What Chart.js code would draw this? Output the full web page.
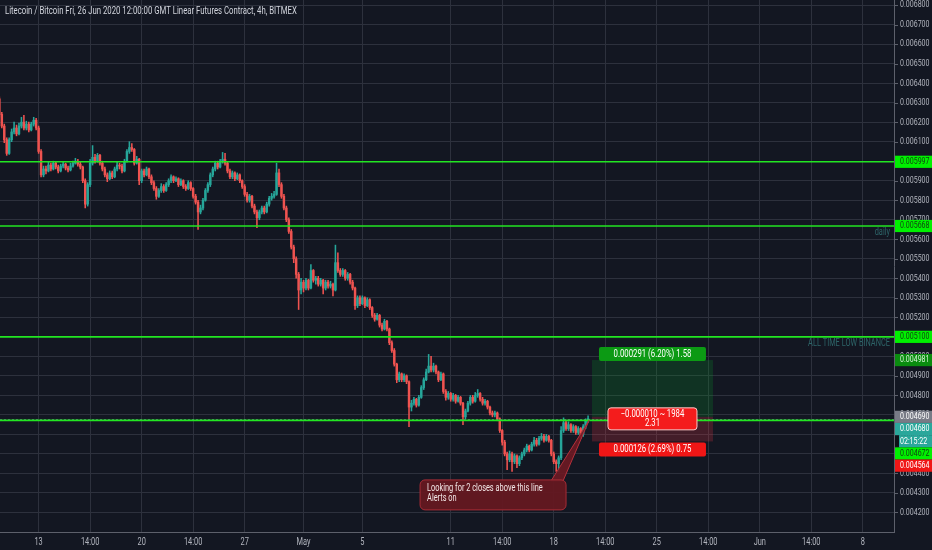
<!DOCTYPE html>
<html>
<head>
<meta charset="utf-8">
<script src="https://cdn.jsdelivr.net/npm/chart.js@4.4.0/dist/chart.umd.min.js"></script>
<style>
  html, body { margin: 0; padding: 0; background: #131722; }
  #wrap { width: 932px; height: 550px; position: relative; }
</style>
</head>
<body>
<div id="wrap"><canvas id="chart"></canvas></div>
<script>
// LTC/BTC 4h candles, prices in millionths of BTC (6240 = 0.006240)
const opens = [
  6320,6240,6180,6110,6040,6110,6150,6170,6140,6180,
  6200,6170,6190,6160,6190,6210,6170,6050,5930,5960,
  5950,5980,5960,5990,5970,5950,5975,5985,5965,5955,
  5975,5990,6000,5985,5970,5900,5780,5880,5990,6020,
  6000,6030,5990,5960,5930,5910,5940,5920,5960,5980,
  5975,5950,6000,6050,6070,6060,5990,6010,5900,5950,
  5930,5960,5920,5890,5860,5820,5850,5870,5850,5880,
  5900,5920,5900,5910,5880,5900,5870,5860,5890,5860,
  5820,5790,5740,5760,5800,5850,5880,5930,5960,5990,
  5970,6000,6010,5990,5950,5920,5940,5910,5930,5900,
  5870,5830,5800,5820,5770,5740,5710,5740,5760,5740,
  5780,5810,5820,5830,5940,5880,5820,5760,5700,5640,
  5560,5500,5420,5340,5380,5350,5390,5350,5440,5390,
  5400,5370,5390,5350,5380,5360,5370,5340,5480,5440,
  5420,5440,5400,5420,5380,5350,5260,5300,5270,5300,
  5260,5290,5250,5210,5190,5210,5160,5140,5180,5140,
  5070,5030,4960,4880,4910,4880,4900,4870,4740,4760,
  4780,4750,4790,4840,4880,4920,4950,4930,4950,4920,
  4880,4910,4820,4790,4810,4780,4800,4770,4790,4760,
  4690,4720,4760,4790,4770,4800,4810,4780,4760,4770,
  4740,4710,4700,4710,4680,4620,4560,4500,4470,4500,
  4460,4490,4450,4480,4500,4520,4540,4520,4550,4570,
  4550,4580,4590,4570,4590,4570,4500,4460,4450,4480,
  4620,4660,4630,4650,4620,4640,4610,4630,4600,4640,
  4670
];
const highs = [
  6330,6250,6190,6120,6120,6165,6200,6185,6195,6225,
  6235,6205,6200,6200,6225,6220,6180,6060,5975,5975,
  5995,5990,6000,5995,5980,5985,5995,5990,5975,5990,
  6000,6015,6010,5995,5975,5910,5890,6010,6080,6035,
  6040,6035,6000,5970,5940,5950,5950,5970,5995,5990,
  5985,6010,6060,6100,6090,6065,6025,6015,5960,5960,
  5970,5965,5930,5900,5870,5860,5885,5880,5890,5910,
  5930,5925,5920,5915,5910,5905,5880,5900,5895,5865,
  5830,5800,5775,5810,5860,5890,5940,5970,6000,6000,
  6010,6045,6040,5995,5960,5950,5945,5940,5935,5905,
  5880,5840,5830,5825,5780,5750,5750,5770,5770,5790,
  5820,5835,5845,5990,5960,5890,5830,5770,5710,5650,
  5570,5510,5430,5400,5390,5400,5395,5470,5445,5410,
  5410,5400,5395,5390,5390,5385,5375,5570,5530,5450,
  5450,5445,5430,5425,5390,5355,5310,5310,5310,5305,
  5300,5295,5255,5220,5220,5215,5170,5190,5185,5145,
  5080,5040,4965,4920,4915,4910,4905,4875,4775,4790,
  4785,4800,4850,4890,4935,5010,5000,4965,4955,4925,
  4920,4915,4830,4820,4815,4810,4805,4800,4795,4765,
  4730,4770,4800,4800,4815,4830,4815,4790,4780,4775,
  4745,4720,4720,4715,4685,4625,4570,4510,4515,4510,
  4500,4495,4490,4510,4530,4550,4545,4560,4585,4580,
  4590,4605,4600,4600,4595,4575,4510,4470,4490,4640,
  4685,4670,4665,4655,4650,4645,4640,4635,4650,4680,
  4695
];
const lows = [
  6225,6170,6095,6030,6035,6100,6140,6130,6135,6170,
  6160,6160,6150,6155,6180,6160,6040,5920,5920,5935,
  5945,5950,5955,5960,5940,5945,5965,5955,5945,5950,
  5970,5985,5975,5960,5890,5760,5770,5870,5980,5990,
  5995,5980,5950,5920,5895,5905,5910,5915,5950,5960,
  5940,5945,5995,6040,6050,5980,5985,5880,5890,5920,
  5925,5910,5880,5850,5805,5815,5840,5840,5845,5870,
  5890,5890,5895,5870,5875,5860,5850,5855,5850,5810,
  5780,5650,5730,5750,5795,5840,5870,5920,5950,5960,
  5965,5990,5980,5940,5910,5910,5900,5905,5890,5860,
  5820,5790,5790,5760,5730,5660,5700,5730,5730,5735,
  5770,5800,5810,5825,5870,5810,5750,5690,5630,5550,
  5480,5400,5240,5320,5330,5340,5340,5345,5380,5370,
  5360,5360,5320,5340,5350,5350,5310,5335,5430,5410,
  5410,5390,5390,5370,5340,5240,5250,5260,5265,5250,
  5255,5240,5200,5180,5185,5150,5130,5135,5130,5060,
  5020,4950,4865,4870,4870,4870,4860,4640,4720,4750,
  4740,4745,4785,4830,4875,4915,4920,4920,4910,4870,
  4875,4810,4775,4780,4770,4770,4760,4765,4750,4650,
  4680,4715,4750,4760,4765,4790,4770,4750,4750,4730,
  4700,4690,4690,4670,4610,4545,4490,4420,4460,4410,
  4450,4430,4440,4470,4490,4510,4510,4515,4540,4540,
  4545,4570,4560,4565,4560,4490,4450,4410,4410,4470,
  4610,4620,4620,4610,4610,4600,4600,4580,4590,4630,
  4660
];
const closes = [
  6240,6180,6110,6040,6110,6150,6170,6140,6180,6200,
  6170,6190,6160,6190,6210,6170,6050,5930,5960,5950,
  5980,5960,5990,5970,5950,5975,5985,5965,5955,5975,
  5990,6000,5985,5970,5900,5780,5880,5990,6020,6000,
  6030,5990,5960,5930,5910,5940,5920,5960,5980,5975,
  5950,6000,6050,6070,6060,5990,6010,5900,5950,5930,
  5960,5920,5890,5860,5820,5850,5870,5850,5880,5900,
  5920,5900,5910,5880,5900,5870,5860,5890,5860,5820,
  5790,5740,5760,5800,5850,5880,5930,5960,5990,5970,
  6000,6010,5990,5950,5920,5940,5910,5930,5900,5870,
  5830,5800,5820,5770,5740,5710,5740,5760,5740,5780,
  5810,5820,5830,5940,5880,5820,5760,5700,5640,5560,
  5500,5420,5340,5380,5350,5390,5350,5440,5390,5400,
  5370,5390,5350,5380,5360,5370,5340,5480,5440,5420,
  5440,5400,5420,5380,5350,5260,5300,5270,5300,5260,
  5290,5250,5210,5190,5210,5160,5140,5180,5140,5070,
  5030,4960,4880,4910,4880,4900,4870,4740,4760,4780,
  4750,4790,4840,4880,4920,4950,4930,4950,4920,4880,
  4910,4820,4790,4810,4780,4800,4770,4790,4760,4690,
  4720,4760,4790,4770,4800,4810,4780,4760,4770,4740,
  4710,4700,4710,4680,4620,4560,4500,4470,4500,4460,
  4490,4450,4480,4500,4520,4540,4520,4550,4570,4550,
  4580,4590,4570,4590,4570,4500,4460,4450,4480,4620,
  4660,4630,4650,4620,4640,4610,4630,4600,4640,4670,
  4680
];
const PRICE_UNIT = 1e6;

// x axis: candle index (0 = first 4h bar on screen)
const xTickPos = [16, 37, 58, 79, 100, 124, 148, 184, 205, 226, 247, 268, 289, 310, 331, 352];
const xTickLabels = ['13', '14:00', '20', '14:00', '27', 'May', '5', '11', '14:00', '18', '14:00', '25', '14:00', 'Jun', '14:00', '8'];
const yTickLabels = [
  '0.004200', '0.004300', '0.004400', '0.004500', '0.004600', '0.004700', '0.004800', '0.004900',
  '0.005000', '0.005100', '0.005200', '0.005300', '0.005400', '0.005500', '0.005600', '0.005700',
  '0.005800', '0.005900', '0.006000', '0.006100', '0.006200', '0.006300', '0.006400', '0.006500',
  '0.006600', '0.006700', '0.006800'
];

// horizontal levels drawn on the chart
const levelPrices = [0.005997, 0.005668, 0.005100, 0.004672];
const levelNotes = ['', 'daily', 'ALL TIME LOW BINANCE', ''];
const lastPrice = 0.004680;
const countdownText = '02:15:22';

// long position tool
const posStartIdx = 241.6;
const posEndIdx = 290.9;
const posEntry = 0.004690;
const posTarget = 0.004981;
const posStop = 0.004564;
const posTargetText = '0.000291 (6.20%) 1.58';
const posMidText = ['\u22120.000010 ~ 1984', '2.31'];
const posStopText = '0.000126 (2.69%) 0.75';

// callout note
const noteAnchorIdx = 240.4;
const noteAnchorPrice = 0.004672;
const noteBoxIdx = 171.5;
const noteBoxPrice = 0.004367;
const noteLines = ['Looking for 2 closes above this line', 'Alerts on'];

const titleText = 'Litecoin / Bitcoin Fri, 26 Jun 2020 12:00:00 GMT Linear Futures Contract, 4h, BITMEX';

const UP = '#26a69a';
const DOWN = '#ef5350';
const LEVEL_GREEN = '#22e622';
const GRID = '#2d313d';
const AXIS_LINE = '#5d606b';
const SX = 0.74; // squeeze for the narrow screen font

const bodies = [];
const wicks = [];
const colors = [];
for (let i = 0; i < closes.length; i++) {
  const o = opens[i], c = closes[i];
  bodies.push({ x: i, y: [Math.min(o, c) / PRICE_UNIT, Math.max(o, c) / PRICE_UNIT] });
  wicks.push({ x: i, y: [lows[i] / PRICE_UNIT, highs[i] / PRICE_UNIT] });
  colors.push(c >= o ? UP : DOWN);
}

function squeezeText(ctx, text, x, y, align, font, color) {
  ctx.save();
  ctx.font = font;
  ctx.fillStyle = color;
  ctx.textBaseline = 'middle';
  ctx.textAlign = 'left';
  const w = ctx.measureText(text).width * SX;
  let x0 = x;
  if (align === 'center') x0 = x - w / 2;
  else if (align === 'right') x0 = x - w;
  ctx.translate(x0, y);
  ctx.scale(SX, 1);
  ctx.fillText(text, 0, 0);
  ctx.restore();
}

function roundBox(ctx, x, y, w, h, r, fill, stroke) {
  ctx.beginPath();
  ctx.roundRect(x, y, w, h, r);
  ctx.fillStyle = fill;
  ctx.fill();
  if (stroke) {
    ctx.strokeStyle = stroke;
    ctx.lineWidth = 1;
    ctx.stroke();
  }
}

const background = {
  id: 'background',
  beforeDraw(chart) {
    const ctx = chart.ctx;
    ctx.save();
    ctx.fillStyle = '#131722';
    ctx.fillRect(0, 0, chart.width, chart.height);
    ctx.restore();
  }
};

const drawings = {
  id: 'drawings',
  afterDatasetsDraw(chart) {
    const { ctx, chartArea: a, scales: { x, y } } = chart;
    ctx.save();
    ctx.beginPath();
    ctx.rect(a.left, a.top, a.right - a.left, a.bottom - a.top);
    ctx.clip();

    // last price line
    const yLast = Math.round(y.getPixelForValue(lastPrice)) + 0.5;
    ctx.setLineDash([2, 2]);
    ctx.strokeStyle = 'rgba(120, 123, 160, 0.7)';
    ctx.lineWidth = 1;
    ctx.beginPath();
    ctx.moveTo(a.left, yLast);
    ctx.lineTo(a.right, yLast);
    ctx.stroke();
    ctx.setLineDash([]);

    // position tool zones
    const xs = x.getPixelForValue(posStartIdx);
    const xe = x.getPixelForValue(posEndIdx);
    const yT = y.getPixelForValue(posTarget);
    const yE = y.getPixelForValue(posEntry);
    const yS = y.getPixelForValue(posStop);
    ctx.fillStyle = 'rgba(8, 153, 40, 0.22)';
    ctx.fillRect(xs, yT, xe - xs, yE - yT);
    ctx.fillStyle = 'rgba(242, 54, 69, 0.22)';
    ctx.fillRect(xs, yE, xe - xs, yS - yE);

    // horizontal levels
    levelPrices.forEach((p, i) => {
      const py = y.getPixelForValue(p);
      ctx.strokeStyle = LEVEL_GREEN;
      ctx.lineWidth = 1.6;
      ctx.beginPath();
      ctx.moveTo(a.left, py);
      ctx.lineTo(a.right, py);
      ctx.stroke();
      if (levelNotes[i]) {
        squeezeText(ctx, levelNotes[i], a.right - 4, py + 7, 'right', '10px Roboto', '#2d6468');
      }
    });

    // callout with pointer
    const bx = x.getPixelForValue(noteBoxIdx);
    const by = y.getPixelForValue(noteBoxPrice);
    const bw = 146, bh = 30;
    const tipX = x.getPixelForValue(noteAnchorIdx);
    const tipY = y.getPixelForValue(noteAnchorPrice);
    ctx.beginPath();
    ctx.moveTo(bx + bw - 15, by + 1);
    ctx.lineTo(tipX, tipY);
    ctx.lineTo(bx + bw - 3, by + 1);
    ctx.closePath();
    ctx.fillStyle = 'rgba(110, 26, 36, 0.9)';
    ctx.fill();
    ctx.strokeStyle = '#b3303b';
    ctx.lineWidth = 1;
    ctx.stroke();
    roundBox(ctx, bx, by, bw, bh, 5, 'rgba(100, 24, 33, 0.95)', '#a72c36');
    noteLines.forEach((t, i) => {
      squeezeText(ctx, t, bx + 7, by + 9 + i * 10, 'left', '10px Roboto', '#f2e6e6');
    });

    // position labels
    const cx = (xs + xe) / 2;
    roundBox(ctx, cx - 53.5, yT - 13, 107, 14, 2, '#0c9a14');
    squeezeText(ctx, posTargetText, cx, yT - 6, 'center', '10.5px Roboto', '#ffffff');
    roundBox(ctx, cx - 44.5, yE - 9, 89, 22, 3, '#f41c1c', '#ffc8c8');
    squeezeText(ctx, posMidText[0], cx, yE - 2, 'center', '10.5px Roboto', '#ffffff');
    squeezeText(ctx, posMidText[1], cx, yE + 7, 'center', '10.5px Roboto', '#ffffff');
    roundBox(ctx, cx - 53.5, yS + 1, 107, 14, 2, '#f01616');
    squeezeText(ctx, posStopText, cx, yS + 8, 'center', '10.5px Roboto', '#ffffff');

    ctx.restore();
  },
  afterDraw(chart) {
    const { ctx, chartArea: a, scales: { x, y } } = chart;
    ctx.save();

    // title
    squeezeText(ctx, titleText, 5, 11, 'left', '10.5px Roboto', '#d1d4dc');

    // price axis labels with small tick marks
    ctx.strokeStyle = AXIS_LINE;
    ctx.lineWidth = 1;
    y.ticks.forEach(t => {
      const py = y.getPixelForValue(t.value);
      ctx.beginPath();
      ctx.moveTo(a.right, Math.round(py) + 0.5);
      ctx.lineTo(a.right + 4, Math.round(py) + 0.5);
      ctx.stroke();
      squeezeText(ctx, Number(t.value).toFixed(6), a.right + 6, py, 'left', '9.5px Roboto', '#b2b5be');
    });
    // time axis labels
    x.ticks.forEach((t, i) => {
      const px = x.getPixelForValue(t.value);
      squeezeText(ctx, xTickLabels[i], px, a.bottom + 10, 'center', '10px Roboto', '#b2b5be');
    });

    // highlighted prices on the axis, stacked so they do not overlap
    const GREEN_TAG = { bg: '#00f000', fg: '#124012' };
    const tags = [
      { price: levelPrices[0], text: levelPrices[0].toFixed(6), ...GREEN_TAG },
      { price: levelPrices[1], text: levelPrices[1].toFixed(6), ...GREEN_TAG },
      { price: levelPrices[2], text: levelPrices[2].toFixed(6), ...GREEN_TAG },
      { price: posTarget, text: posTarget.toFixed(6), bg: '#0a8c0f', fg: '#d8f5d8' },
      { price: posEntry, text: posEntry.toFixed(6), bg: '#787b86', fg: '#ffffff' },
      { price: lastPrice, text: lastPrice.toFixed(6), bg: '#2aa79b', fg: '#ffffff' },
      { price: lastPrice, text: countdownText, bg: '#2aa79b', fg: '#ffffff', timer: true },
      { price: levelPrices[3], text: levelPrices[3].toFixed(6), ...GREEN_TAG },
      { price: posStop, text: posStop.toFixed(6), bg: '#f01616', fg: '#ffffff' }
    ];
    const H = 12.2;
    let prev = -Infinity;
    tags.forEach(tag => {
      let cy = y.getPixelForValue(tag.price);
      if (cy < prev + H) cy = prev + H;
      prev = cy;
      const left = tag.timer ? a.right + 5 : a.right + 1;
      if (tag.timer) {
        ctx.fillStyle = '#0d1117';
        ctx.fillRect(a.right + 1, cy - H / 2 + 1, 4, H - 2);
      }
      ctx.fillStyle = tag.bg;
      ctx.fillRect(left, cy - H / 2, chart.width - left, H);
      squeezeText(ctx, tag.text, a.right + 6, cy, 'left', '9.5px Roboto', tag.fg);
    });

    ctx.restore();
  }
};

new Chart(document.getElementById('chart'), {
  type: 'bar',
  data: {
    datasets: [
      {
        label: 'body',
        data: bodies,
        backgroundColor: colors,
        barThickness: 1.8,
        minBarLength: 1,
        grouped: false,
        borderWidth: 0
      },
      {
        label: 'wick',
        data: wicks,
        backgroundColor: colors,
        barThickness: 0.9,
        grouped: false,
        borderWidth: 0
      }
    ]
  },
  options: {
    responsive: true,
    maintainAspectRatio: false,
    animation: false,
    layout: { padding: 0 },
    plugins: { legend: { display: false }, tooltip: { enabled: false } },
    scales: {
      x: {
        type: 'linear',
        min: 0.26,
        max: 364.71,
        offset: false,
        grid: { color: GRID, offset: false, drawTicks: false },
        border: { display: true, color: AXIS_LINE },
        ticks: { display: false },
        afterBuildTicks: scale => { scale.ticks = xTickPos.map(v => ({ value: v })); },
        afterFit: scale => { scale.height = 18; }
      },
      y: {
        type: 'linear',
        position: 'right',
        min: 0.0041,
        max: 0.006826,
        grid: { color: GRID, drawTicks: false },
        border: { display: true, color: AXIS_LINE },
        ticks: { display: false },
        afterBuildTicks: scale => { scale.ticks = yTickLabels.map(s => ({ value: Number(s) })); },
        afterFit: scale => { scale.width = 38; }
      }
    }
  },
  plugins: [background, drawings]
});
</script>
</body>
</html>
